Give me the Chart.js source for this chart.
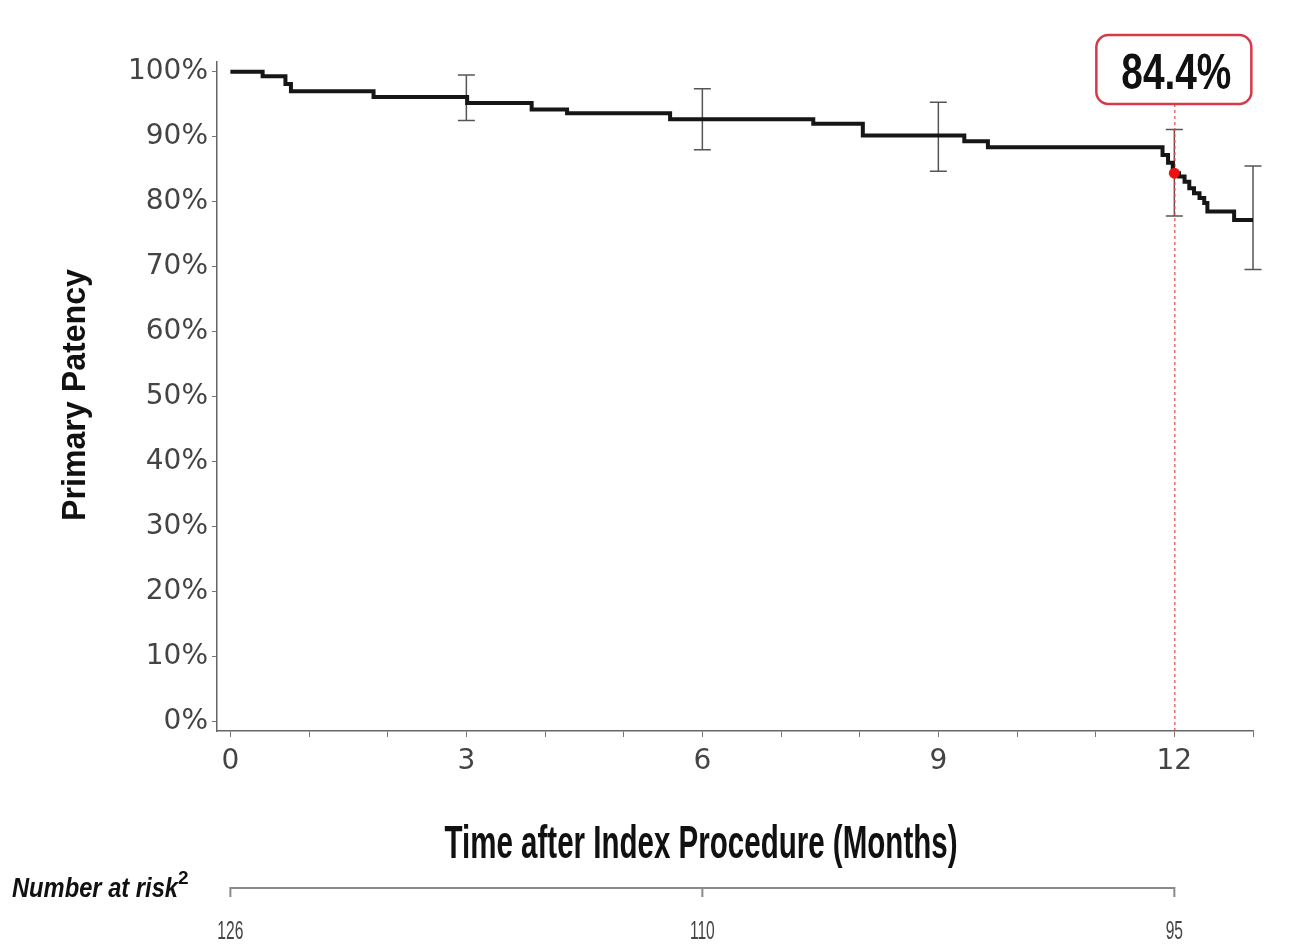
<!DOCTYPE html>
<html><head><meta charset="utf-8">
<script src="https://cdn.jsdelivr.net/npm/chart.js@4.4.1/dist/chart.umd.min.js"></script>
<style>html,body{margin:0;padding:0;background:#fff;} #wrap{width:1291px;height:944px;position:relative;}</style>
</head><body><div id="wrap"><canvas id="c" width="1291" height="944"></canvas></div>
<script>
// Kaplan-Meier step curve (months, % patent)
const kmTime = [0, 0.41, 0.70, 0.77, 1.82, 3.01, 3.83, 4.28, 5.59, 7.41, 8.04, 9.33, 9.63, 11.85, 11.92, 11.98, 12.06, 12.13, 12.19, 12.25, 12.32, 12.38, 12.42, 12.76, 13.0];
const kmSurv = [100, 99.3, 98.1, 97.0, 96.1, 95.2, 94.2, 93.6, 92.7, 92.0, 90.2, 89.3, 88.4, 87.2, 86.0, 84.4, 83.9, 83.1, 82.1, 81.3, 80.6, 79.8, 78.5, 77.2, 77.2];
// confidence intervals
const ciTime = [3, 6, 9, 12, 13];
const ciLower = [92.5, 88.0, 84.7, 77.8, 69.6];
const ciUpper = [99.5, 97.4, 95.3, 91.1, 85.5];
// ticks
const yTickValues = [0, 10, 20, 30, 40, 50, 60, 70, 80, 90, 100];
const xTickValues = [0, 1, 2, 3, 4, 5, 6, 7, 8, 9, 10, 11, 12, 13];
const xLabelValues = [0, 3, 6, 9, 12];
// number at risk
const riskTime = [0, 6, 12];
const riskCount = [126, 110, 95];
// highlighted estimate
const markTime = 12;
const markValue = 84.4;
const markLabel = '84.4%';

const xTitle = 'Time after Index Procedure (Months)';
const yTitle = 'Primary Patency';
const riskTitle = 'Number at risk';

function fitText(ctx, text, x, y, font, width, align) {
  ctx.save();
  ctx.font = font;
  const w = ctx.measureText(text).width;
  const s = width / w;
  ctx.translate(x, y);
  ctx.scale(s, 1);
  ctx.textAlign = align || 'center';
  ctx.fillText(text, 0, 0);
  ctx.restore();
}

const decor = {
  id: 'decor',
  beforeDatasetsDraw(chart) {
    const ctx = chart.ctx, xs = chart.scales.x, ys = chart.scales.y;
    ctx.save();
    // CI bars
    ctx.strokeStyle = '#555';
    ctx.lineWidth = 1.5;
    for (let i = 0; i < ciTime.length; i++) {
      const px = xs.getPixelForValue(ciTime[i]);
      const a = ys.getPixelForValue(ciUpper[i]);
      const b = ys.getPixelForValue(ciLower[i]);
      ctx.beginPath();
      ctx.moveTo(px, a); ctx.lineTo(px, b);
      ctx.moveTo(px - 8.5, a); ctx.lineTo(px + 8.5, a);
      ctx.moveTo(px - 8.5, b); ctx.lineTo(px + 8.5, b);
      ctx.stroke();
    }
    // dashed marker line
    const mx = xs.getPixelForValue(markTime);
    ctx.strokeStyle = '#e04848';
    ctx.lineWidth = 1.2;
    ctx.setLineDash([3, 3]);
    ctx.beginPath();
    ctx.moveTo(mx + 0.5, 104);
    ctx.lineTo(mx + 0.5, chart.chartArea.bottom);
    ctx.stroke();
    ctx.restore();
  },
  afterDraw(chart) {
    const ctx = chart.ctx, xs = chart.scales.x;
    const mx = xs.getPixelForValue(markTime);
    ctx.save();
    // label box
    ctx.fillStyle = '#fff';
    ctx.strokeStyle = '#d63a4a';
    ctx.lineWidth = 2.5;
    ctx.beginPath();
    ctx.roundRect(mx - 78, 35, 155, 69, 12);
    ctx.fill();
    ctx.stroke();
    ctx.fillStyle = '#111';
    ctx.textBaseline = 'alphabetic';
    fitText(ctx, markLabel, mx + 2, 89, 'bold 50px "Liberation Sans"', 110, 'center');
    // axis titles
    fitText(ctx, xTitle, 701, 858, 'bold 46px "Liberation Sans"', 513, 'center');
    ctx.save();
    ctx.translate(85, 395);
    ctx.rotate(-Math.PI / 2);
    fitText(ctx, yTitle, 0, 0, 'bold 33px "Liberation Sans"', 252, 'center');
    ctx.restore();
    // number at risk
    ctx.fillStyle = '#111';
    fitText(ctx, riskTitle, 12, 897, 'italic bold 27px "Liberation Sans"', 166, 'left');
    ctx.font = 'bold 19px "Liberation Sans"';
    ctx.textAlign = 'left';
    ctx.fillText('2', 178, 884);
    const x0 = xs.getPixelForValue(riskTime[0]);
    const x1 = xs.getPixelForValue(riskTime[riskTime.length - 1]);
    ctx.strokeStyle = '#8a8a8a';
    ctx.lineWidth = 2;
    ctx.beginPath();
    ctx.moveTo(x0, 888); ctx.lineTo(x1, 888);
    riskTime.forEach(t => { const p = xs.getPixelForValue(t); ctx.moveTo(p, 887); ctx.lineTo(p, 897); });
    ctx.stroke();
    ctx.fillStyle = '#444';
    ctx.font = '26px "Liberation Sans"';
    const sc = 26 / ctx.measureText('126').width;
    riskTime.forEach((t, i) => {
      const p = xs.getPixelForValue(t);
      ctx.save();
      ctx.translate(p, 939);
      ctx.scale(sc, 1);
      ctx.textAlign = 'center';
      ctx.fillText(String(riskCount[i]), 0, 0);
      ctx.restore();
    });
    ctx.restore();
  }
};

const tickFont = { family: '"DejaVu Sans"', size: 28, weight: 'normal' };

new Chart(document.getElementById('c'), {
  type: 'line',
  data: {
    datasets: [
      {
        data: kmTime.map((t, i) => ({ x: t, y: kmSurv[i] })),
        stepped: 'before',
        borderColor: '#161616',
        borderWidth: 4,
        pointRadius: 0,
        fill: false,
        order: 2
      },
      {
        data: [{ x: markTime, y: markValue }],
        showLine: false,
        pointRadius: 5.5,
        pointBackgroundColor: '#ee1111',
        pointBorderWidth: 0,
        borderColor: '#ee1111',
        order: 1
      }
    ]
  },
  options: {
    responsive: false,
    animation: false,
    events: [],
    layout: { padding: { top: 62, right: 38, bottom: 153, left: 0 } },
    plugins: { legend: { display: false }, tooltip: { enabled: false } },
    scales: {
      x: {
        type: 'linear',
        min: -0.17,
        max: 13,
        afterBuildTicks: s => { s.ticks = xTickValues.map(v => ({ value: v })); },
        afterFit: s => { s.height = 60; },
        grid: { drawOnChartArea: false, drawTicks: true, tickLength: 6, color: '#777', tickWidth: 1 },
        border: { display: true, color: '#666', width: 1.5 },
        ticks: {
          autoSkip: false,
          maxRotation: 0,
          padding: 8,
          color: '#444',
          font: tickFont,
          callback: v => (xLabelValues.includes(v) ? String(v) : '')
        }
      },
      y: {
        type: 'linear',
        min: -1.4,
        max: 101.5,
        afterBuildTicks: s => { s.ticks = yTickValues.map(v => ({ value: v })); },
        afterFit: s => { s.width = 217; },
        grid: { drawOnChartArea: false, drawTicks: true, tickLength: 5, color: '#777', tickWidth: 1 },
        border: { display: true, color: '#666', width: 1.5 },
        ticks: {
          padding: 4,
          color: '#444',
          font: tickFont,
          callback: v => v + '%'
        }
      }
    }
  },
  plugins: [decor]
});
</script>
</body></html>
